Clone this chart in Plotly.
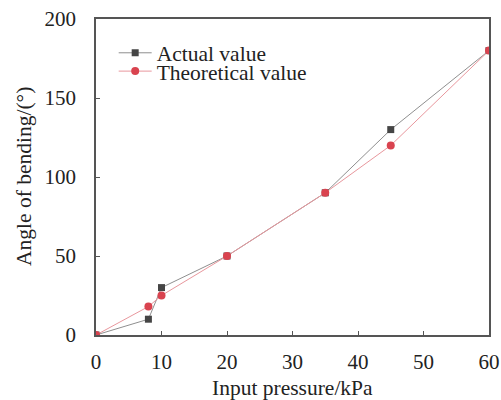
import plotly.graph_objects as go

pressure = [0, 8, 10, 20, 35, 45, 60]
actual = [0, 10, 30, 50, 90, 130, 180]
theoretical = [0, 18, 25, 50, 90, 120, 180]
x_ticks = [0, 10, 20, 30, 40, 50, 60]
y_ticks = [0, 50, 100, 150, 200]
x_title = "Input pressure/kPa"
y_title = "Angle of bending/(°)"

font = "Liberation Serif, Times New Roman, serif"
FS_TICK = 21
FS = 21.5

fig = go.Figure()
fig.add_trace(go.Scatter(
    x=pressure, y=actual, name="Actual value", mode="lines+markers",
    line=dict(color="#8f8f8f", width=1),
    marker=dict(symbol="square", size=7, color="#454545"),
    legend="legend",
))
fig.add_trace(go.Scatter(
    x=pressure, y=theoretical, name="Theoretical value", mode="lines+markers",
    line=dict(color="#e8979d", width=1),
    marker=dict(symbol="circle", size=8, color="#d9434f"),
    legend="legend2",
))

axis_common = dict(
    showgrid=False, zeroline=False, showline=True, linecolor="#555555", linewidth=1.5,
    mirror=True, ticks="inside", ticklen=4, tickcolor="#555555", tickwidth=1,
    tickfont=dict(family=font, size=FS_TICK, color="#222222"), automargin=False,
)

leg_common = dict(xanchor="left", yanchor="middle", bgcolor="rgba(0,0,0,0)",
                  font=dict(family=font, size=FS, color="#222222"), itemwidth=33)

fig.update_layout(
    width=501, height=400,
    margin=dict(l=96, r=12, t=19, b=65),
    paper_bgcolor="white", plot_bgcolor="white",
    font=dict(family=font, size=FS, color="#222222"),
    showlegend=True,
    legend=dict(x=0.045, y=0.893, **leg_common),
    legend2=dict(x=0.045, y=0.835, **leg_common),
    xaxis=dict(range=[0, 60], tickvals=x_ticks, ticklabelstandoff=7, **axis_common),
    yaxis=dict(range=[0, 200], tickvals=y_ticks, ticklabelstandoff=14, **axis_common),
    annotations=[
        dict(text=x_title, xref="paper", yref="paper", x=0.5, y=0, yshift=-53,
             showarrow=False, xanchor="center", yanchor="middle",
             font=dict(family=font, size=FS, color="#222222")),
        dict(text=y_title, xref="paper", yref="paper", x=0, y=0.5, xshift=-72,
             showarrow=False, xanchor="center", yanchor="middle", textangle=-90,
             font=dict(family=font, size=FS, color="#222222")),
    ],
)

fig.write_html("out.html", config={"displayModeBar": False},
               post_script="document.body.style.margin='0';")
